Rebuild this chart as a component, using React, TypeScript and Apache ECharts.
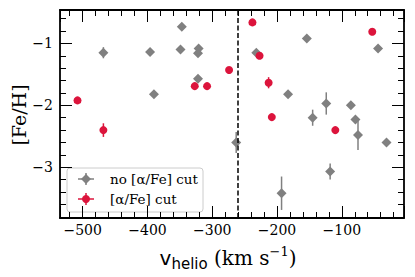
import React, { useEffect, useRef } from "react";
import * as echarts from "echarts";

const grayV = [-468, -396, -347, -349, -321, -322, -322, -390, -263, -232, -193, -183, -154, -145, -124, -118, -86, -79, -75, -44, -31];
const grayFe = [-1.15, -1.14, -0.73, -1.1, -1.08, -1.16, -1.57, -1.82, -2.6, -1.15, -3.42, -1.82, -0.92, -2.2, -1.97, -3.07, -2.0, -2.23, -2.48, -1.08, -2.6];
const grayErr = [0.09, 0.04, 0.04, 0.04, 0.04, 0.04, 0.04, 0.04, 0.17, 0.04, 0.27, 0.04, 0.04, 0.13, 0.18, 0.13, 0.04, 0.06, 0.24, 0.04, 0.04];

const redV = [-508, -468, -327, -308, -274, -238, -227, -213, -208, -110, -53];
const redFe = [-1.92, -2.4, -1.69, -1.69, -1.43, -0.66, -1.2, -1.635, -2.19, -2.4, -0.81];
const redErr = [0.04, 0.11, 0.04, 0.04, 0.04, 0.04, 0.04, 0.09, 0.04, 0.04, 0.04];

const vCut = -260;
const xRange = [-535, -4];
const yRange = [-3.82, -0.46];
const legendLabels = ["no [α/Fe] cut", "[α/Fe] cut"];

const GRAY = "#808080";
const RED = "#DC143C";
const SERIF = "DejaVu Serif";
const SANS = "DejaVu Sans";

function fmt(step: number) {
  return (v: number) => {
    const r = v / step;
    if (Math.abs(r - Math.round(r)) > 1e-6) return "";
    const s = String(Math.round(v * 1000) / 1000);
    return s.replace("-", "\u2212");
  };
}

function errSeries(xs: number[], ys: number[], es: number[], color: string) {
  return {
    type: "custom",
    xAxisIndex: 0,
    yAxisIndex: 0,
    z: 2,
    silent: true,
    data: xs.map((x, i) => [x, ys[i], es[i]]),
    renderItem: (_p: any, api: any) => {
      const x = api.value(0);
      const y = api.value(1);
      const e = api.value(2);
      const a = api.coord([x, y - e]);
      const b = api.coord([x, y + e]);
      return {
        type: "line",
        shape: { x1: a[0], y1: a[1], x2: b[0], y2: b[1] },
        style: { stroke: color, lineWidth: 1.5 },
      };
    },
  };
}

export default function App() {
  const ref = useRef<HTMLDivElement>(null);
  useEffect(() => {
    if (!ref.current) return;
    const chart = echarts.init(ref.current, null, { renderer: "svg" });
    const axisCommon = (isX: boolean, showLabel: boolean, pos: string) => ({
      type: "value",
      position: pos,
      min: isX ? xRange[0] : yRange[0],
      max: isX ? xRange[1] : yRange[1],
      minInterval: isX ? 100 : 1,
      maxInterval: isX ? 100 : 1,
      splitLine: { show: false },
      axisLine: { show: true, onZero: false, lineStyle: { color: "#000", width: 1.8 } },
      axisTick: { show: true, inside: true, length: 12, lineStyle: { color: "#000", width: 1 } },
      minorTick: { show: true, splitNumber: 5, length: 6, lineStyle: { color: "#000", width: 1 } },
      axisLabel: {
        show: showLabel,
        fontFamily: SERIF,
        fontSize: 14,
        color: "#000",
        margin: isX ? 5 : 7,
        formatter: fmt(isX ? 100 : 1),
      },
    });
    const legendText = (t: string, y: number) => ({
      type: "text",
      x: 110,
      y,
      style: {
        text: t,
        fontFamily: SERIF,
        fontSize: 13.5,
        fill: "#000",
        verticalAlign: "middle",
        align: "left",
      },
    });
    chart.setOption({
      animation: false,
      backgroundColor: "#fff",
      grid: { left: 60, right: 11, top: 10, bottom: 59 },
      xAxis: [axisCommon(true, true, "bottom"), axisCommon(true, false, "top")],
      yAxis: [axisCommon(false, true, "left"), axisCommon(false, false, "right")],
      series: [
        errSeries(grayV, grayFe, grayErr, GRAY),
        {
          type: "scatter",
          xAxisIndex: 0,
          yAxisIndex: 0,
          z: 3,
          symbol: "diamond",
          symbolSize: [10, 10],
          itemStyle: { color: GRAY, opacity: 1 },
          data: grayV.map((x, i) => [x, grayFe[i]]),
        },
        errSeries(redV, redFe, redErr, RED),
        {
          type: "scatter",
          xAxisIndex: 0,
          yAxisIndex: 0,
          z: 5,
          symbol: "circle",
          symbolSize: 8,
          itemStyle: { color: RED, opacity: 1 },
          data: redV.map((x, i) => [x, redFe[i]]),
          markLine: {
            silent: true,
            symbol: ["none", "none"],
            label: { show: false },
            lineStyle: { type: [5, 2.5], color: "#000", width: 1.5 },
            data: [{ xAxis: vCut }],
          },
        },
      ],
      graphic: [
        {
          type: "group",
          z: 100,
          children: [
            {
              type: "rect",
              shape: { x: 67, y: 168, width: 136, height: 44, r: 3 },
              style: { fill: "rgba(255,255,255,0.8)", stroke: "#cccccc", lineWidth: 1 },
            },
            { type: "line", shape: { x1: 78, y1: 179, x2: 94, y2: 179 }, style: { stroke: GRAY, lineWidth: 1.5 } },
            { type: "line", shape: { x1: 86, y1: 173, x2: 86, y2: 185 }, style: { stroke: GRAY, lineWidth: 1.5 } },
            {
              type: "polygon",
              shape: { points: [[86, 174], [91, 179], [86, 184], [81, 179]] },
              style: { fill: GRAY },
            },
            { type: "line", shape: { x1: 78, y1: 199, x2: 94, y2: 199 }, style: { stroke: RED, lineWidth: 1.5 } },
            { type: "line", shape: { x1: 86, y1: 193, x2: 86, y2: 205 }, style: { stroke: RED, lineWidth: 1.5 } },
            { type: "circle", shape: { cx: 86, cy: 199, r: 4 }, style: { fill: RED } },
            legendText(legendLabels[0], 179),
            legendText(legendLabels[1], 199),
          ],
        },
        {
          type: "text",
          x: 19,
          y: 115,
          rotation: Math.PI / 2,
          style: {
            text: "[Fe/H]",
            fontFamily: SERIF,
            fontSize: 19,
            fill: "#000",
            align: "center",
            verticalAlign: "middle",
          },
        },
        {
          type: "text",
          x: 228,
          y: 258,
          style: {
            text: "{v|v}{sub|helio}{m| (km s}{sup|\u22121}{m|)}",
            align: "center",
            verticalAlign: "middle",
            fill: "#000",
            rich: {
              v: { fontFamily: SANS, fontSize: 20, lineHeight: 26, verticalAlign: "middle", fill: "#000" },
              sub: { fontFamily: SANS, fontSize: 15, lineHeight: 15, verticalAlign: "bottom", fill: "#000" },
              m: { fontFamily: SERIF, fontSize: 20, lineHeight: 26, verticalAlign: "middle", fill: "#000" },
              sup: { fontFamily: SERIF, fontSize: 13, lineHeight: 13, verticalAlign: "top", fill: "#000" },
            },
          },
        },
      ],
    });
    return () => chart.dispose();
  }, []);
  return <div ref={ref} style={{ position: "absolute", left: 0, top: 0, width: 415, height: 277 }} />;
}
